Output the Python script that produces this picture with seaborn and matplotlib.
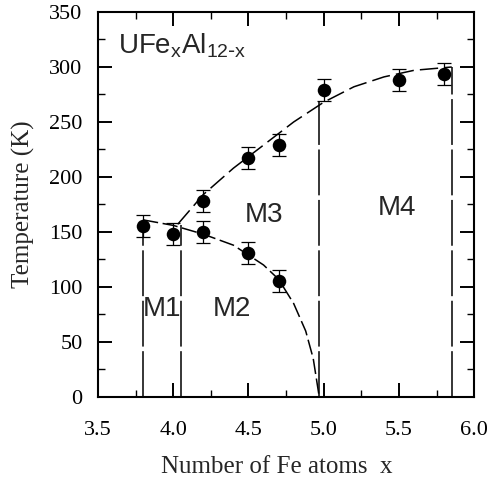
import seaborn as sns
import matplotlib.pyplot as plt
from matplotlib.ticker import MultipleLocator
import pandas as pd

# measured transition temperatures (K) vs Fe content x
x_low = [3.8, 4.0, 4.2, 4.5, 4.7]
t_low = [155, 148, 150, 131, 105]
x_high = [4.2, 4.5, 4.7, 5.0, 5.5, 5.8]
t_high = [178, 217, 229, 279, 288, 294]
t_err = 10

# guide curves
curve_low_x = [3.8, 4.0, 4.2, 4.4, 4.6, 4.7, 4.8, 4.88, 4.93, 4.97]
curve_low_t = [161, 156, 148, 138, 120, 107, 85, 60, 35, 0]
curve_high_x = [4.03, 4.2, 4.4, 4.6, 4.8, 5.0, 5.2, 5.4, 5.6, 5.85]
curve_high_t = [157, 184, 208, 229, 250, 268, 282, 291, 297, 300]

# phase boundaries
bound_x = [3.80, 4.05, 4.97, 5.85]
bound_top = [160, 156, 268, 300]

sns.set_style("ticks")
plt.rcParams['font.family'] = ['Liberation Serif', 'DejaVu Serif']

fig = plt.figure(figsize=(4.87, 4.80), dpi=100)
ax = fig.add_axes([0.201, 0.173, 0.773, 0.802])

pts = pd.DataFrame({"x": x_low + x_high, "T": t_low + t_high})

ax.errorbar(pts["x"], pts["T"], yerr=t_err, fmt="none", ecolor="black",
            elinewidth=0.9, capsize=5, capthick=0.9, zorder=2)
sns.scatterplot(data=pts, x="x", y="T", ax=ax, color="black", s=95,
                edgecolor="black", linewidth=0, zorder=3)

sns.lineplot(x=curve_low_x, y=curve_low_t, ax=ax, sort=False, estimator=None,
             color="black", linewidth=1.1, linestyle=(0, (10, 3)))
sns.lineplot(x=curve_high_x, y=curve_high_t, ax=ax, sort=False, estimator=None,
             color="black", linewidth=1.1, linestyle=(0, (12, 4)))
ax.vlines(bound_x, 0, bound_top, colors="black", linewidth=1.1,
          linestyles=[(0, (30, 3))])

sans = ['Liberation Sans', 'DejaVu Sans']
ax.text(0.053, 0.894, r'UFe$_\mathregular{x}$Al$_\mathregular{12\text{-}x}$',
        transform=ax.transAxes, fontsize=20, family=sans, va='baseline')
for lbl, lx, ly in [("M1", 3.80, 74), ("M2", 4.26, 74),
                    ("M3", 4.475, 159), ("M4", 5.36, 165)]:
    ax.text(lx, ly, lbl, fontsize=20, family=sans, va='baseline')

ax.set_xlim(3.5, 6.0)
ax.set_ylim(0, 350)
ax.xaxis.set_major_locator(MultipleLocator(0.5))
ax.xaxis.set_minor_locator(MultipleLocator(0.25))
ax.yaxis.set_major_locator(MultipleLocator(50))
ax.yaxis.set_minor_locator(MultipleLocator(25))
ax.xaxis.set_major_formatter(lambda v, p: f"{v:.1f}")

ax.tick_params(which='both', direction='in', top=True, right=True, colors='black')
ax.tick_params(which='major', length=10, width=1.4, labelsize=16)
ax.tick_params(which='minor', length=5, width=1.0)
ax.tick_params(axis='x', which='major', pad=17)
ax.tick_params(axis='y', which='major', pad=11)
for sp in ax.spines.values():
    sp.set_linewidth(1.5)
    sp.set_color('black')

ax.set_xlabel("Number of Fe atoms  x", fontsize=18, labelpad=12)
ax.set_ylabel("Temperature (K)", fontsize=18, labelpad=10)
ax.xaxis.label.set_x(0.476)

fig.savefig("out.png", dpi=100)
